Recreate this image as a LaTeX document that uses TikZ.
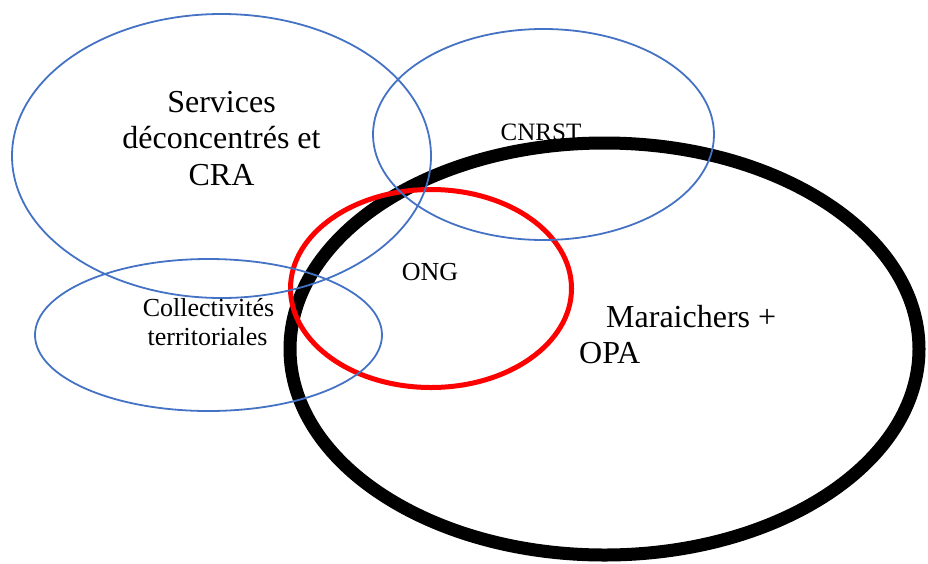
\documentclass[tikz,border=0pt]{standalone}
\usepackage{fontspec}
\setmainfont{Liberation Serif}
\begin{document}
\begin{tikzpicture}[x=1pt,y=-1pt,
  blueell/.style={draw={rgb,255:red,68;green,114;blue,196}, line width=1.8pt},
  lbl/.style={inner sep=0pt, align=center}]
\useasboundingbox (0,0) rectangle (928,563);
% CNRST label (under the black ellipse)
\node[lbl, anchor=base, font=\fontsize{25}{28}\selectfont] (tcnrst) at (541,140) {CNRST};
% black ellipse
\draw[line width=13pt, black] (604.5,349) ellipse [x radius=314.5, y radius=206];
% red ellipse
\draw[line width=5pt, red] (431,288.5) ellipse [x radius=140.5, y radius=99];
% blue ellipses
\draw[blueell] (221.5,156) ellipse [x radius=209.5, y radius=142];
\draw[blueell] (543.5,134.5) ellipse [x radius=170.5, y radius=105.5];
\draw[blueell] (208.5,335) ellipse [x radius=173.5, y radius=76];
% labels
\node[lbl, anchor=base, font=\fontsize{32}{36.5}\selectfont] (tserv) at (221.5,112) {Services};
\node[lbl, anchor=base, font=\fontsize{32}{36.5}\selectfont] (tdec) at (221.5,148.5) {déconcentrés et};
\node[lbl, anchor=base, font=\fontsize{32}{36.5}\selectfont] (tcra) at (221.5,185) {CRA};
\node[lbl, anchor=base, font=\fontsize{26}{29}\selectfont] (tong) at (430,280) {ONG};
\node[lbl, anchor=base, font=\fontsize{26}{29}\selectfont] (tcol) at (208.5,316) {Collectivités};
\node[lbl, anchor=base, font=\fontsize{26}{29}\selectfont] (tter) at (207.5,345) {territoriales};
\node[lbl, anchor=base west, font=\fontsize{32}{36}\selectfont] (tmar) at (606,327) {Maraichers +};
\node[lbl, anchor=base west, font=\fontsize{32}{36}\selectfont] (topa) at (579,363) {OPA};
\end{tikzpicture}
\end{document}
